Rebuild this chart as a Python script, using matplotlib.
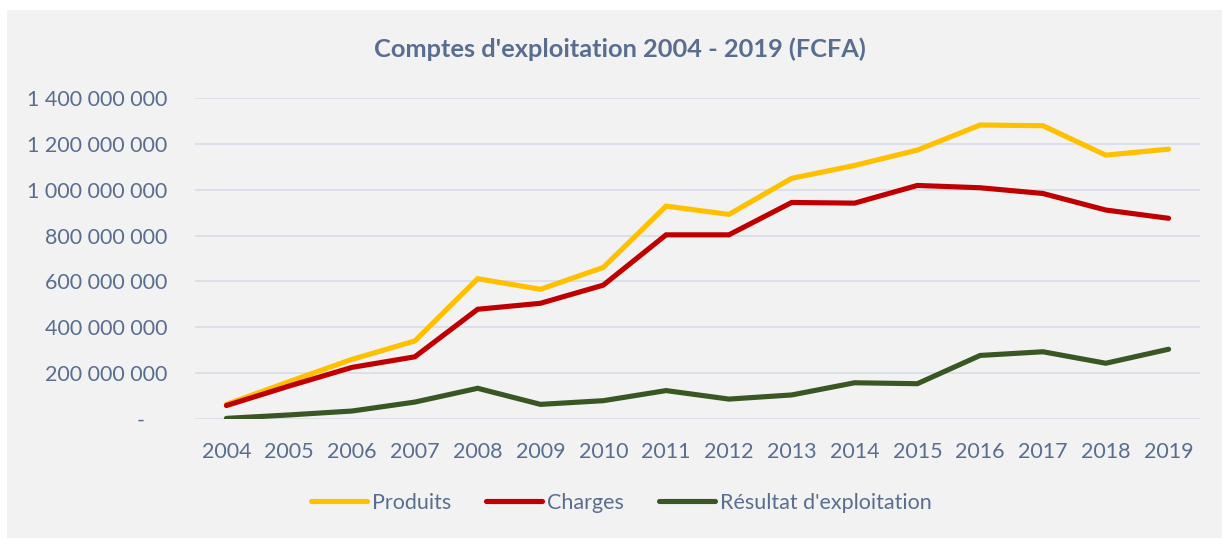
import matplotlib.pyplot as plt
from matplotlib.patches import Rectangle
from matplotlib.ticker import FuncFormatter, MultipleLocator

years = list(range(2004, 2020))
produits = [65, 164, 261, 341, 612, 566, 661, 928, 892, 1049, 1105, 1172, 1281, 1278, 1150, 1176]
charges = [60, 145, 226, 272, 479, 505, 584, 803, 803, 944, 941, 1018, 1008, 983, 911, 875]
resultat = [4, 19, 36, 75, 135, 65, 81, 125, 88, 106, 159, 155, 278, 294, 244, 305]
# values read in millions of FCFA
produits = [v * 1e6 for v in produits]
charges = [v * 1e6 for v in charges]
resultat = [v * 1e6 for v in resultat]

series_names = ["Produits", "Charges", "Résultat d'exploitation"]
series_colors = ["#FFC000", "#C00000", "#385723"]
title = "Comptes d'exploitation 2004 - 2019 (FCFA)"

text_color = "#596E8F"
bg = "#F2F2F2"
plt.rcParams['font.family'] = ['Lato', 'DejaVu Sans']

fig = plt.figure(figsize=(12.22, 5.38), dpi=100)
fig.patch.set_facecolor("white")
fig.patches.append(Rectangle((7 / 1222, 0), 1, 1 - 10 / 538, transform=fig.transFigure,
                             facecolor=bg, edgecolor="none", zorder=-5))

ax = fig.add_axes([195 / 1222, 118.7 / 538, 1005 / 1222, 321.6 / 538])
ax.patch.set_alpha(0)

for vals, name, col in zip([produits, charges, resultat], series_names, series_colors):
    ax.plot(years, vals, color=col, lw=3.7, label=name, solid_capstyle="round",
            solid_joinstyle="miter", zorder=3)

ax.set_xlim(2003.5, 2019.5)
ax.set_ylim(0, 1.4e9)
ax.yaxis.set_major_locator(MultipleLocator(2e8))
ax.set_xticks(years)


def fmt(v, pos):
    if abs(v) < 1:
        return "-    "
    return f"{int(round(v)):,}".replace(",", " ")


ax.yaxis.set_major_formatter(FuncFormatter(fmt))
ax.grid(axis="y", color="#D9DEE6", lw=1.3, zorder=1)
ax.grid(axis="x", visible=False)
for s in ax.spines.values():
    s.set_visible(False)
ax.tick_params(axis="both", length=0, colors=text_color, labelsize=15.5)
ax.tick_params(axis="y", pad=20)
ax.tick_params(axis="x", pad=16)

fig.text(0.507, 1 - 49 / 538, title, ha="center", va="center", fontsize=18.3,
         fontweight="bold", color=text_color)

leg = fig.legend(loc="center", bbox_to_anchor=(0.5086, 1 - 503 / 538), ncol=3,
                 frameon=False, fontsize=15.5, handlelength=2.6, handletextpad=0.25,
                 columnspacing=1.6)
for t in leg.get_texts():
    t.set_color(text_color)

fig.savefig("out.png", dpi=100, facecolor=fig.get_facecolor())
